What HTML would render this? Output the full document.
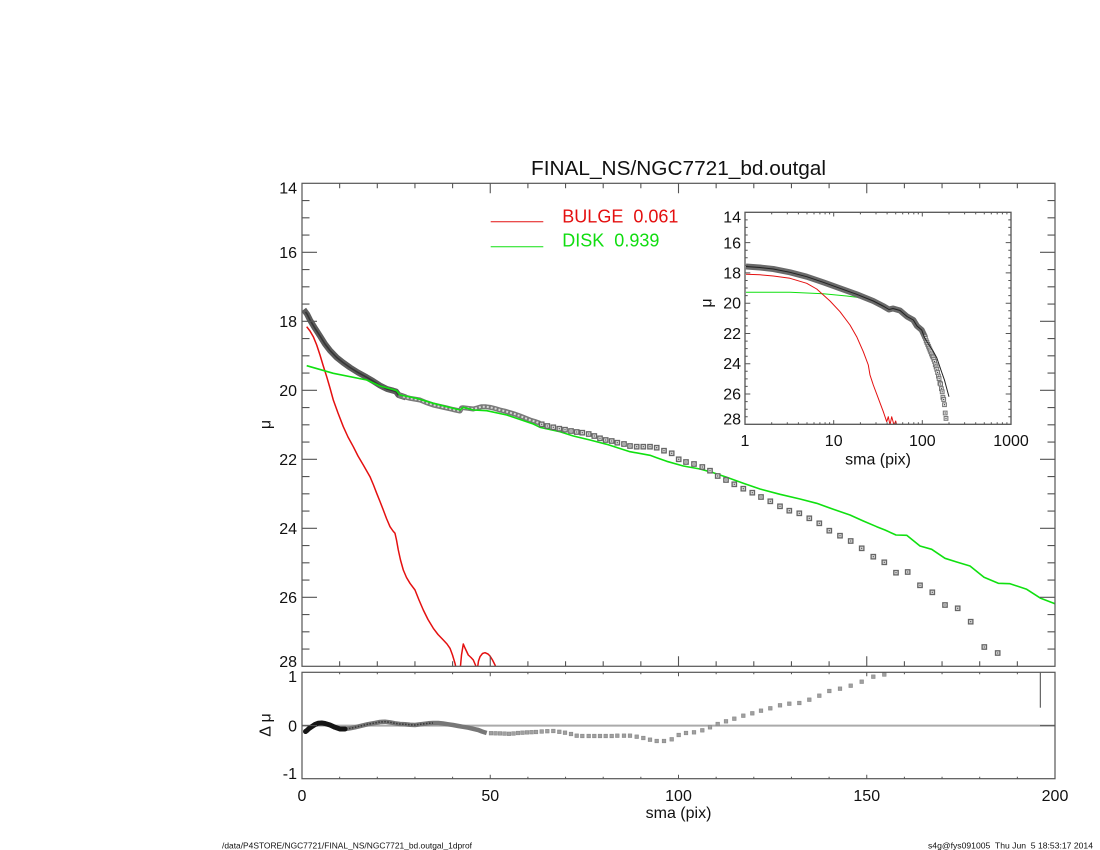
<!DOCTYPE html>
<html><head><meta charset="utf-8">
<style>
html,body{margin:0;padding:0;background:#fff;width:1100px;height:850px;overflow:hidden}
svg{display:block}
text{font-family:"Liberation Sans",sans-serif;fill:#111}
</style></head>
<body>
<svg width="1100" height="850" viewBox="0 0 1100 850" xmlns="http://www.w3.org/2000/svg">
<defs>
<clipPath id="cm"><rect x="302" y="183.3" width="753" height="483"/></clipPath>
<clipPath id="ci"><rect x="745" y="212.3" width="266" height="212"/></clipPath>
<clipPath id="cr"><rect x="302" y="672.3" width="753" height="106.4"/></clipPath>
<g id="q"><rect x="-2.2" y="-2.2" width="4.4" height="4.4" fill="#dedede" stroke="#666" stroke-width="1.3"/><rect x="-0.6" y="-0.6" width="1.2" height="1.2" fill="#555"/></g>
<g id="qi"><rect x="-1.9" y="-1.9" width="3.8" height="3.8" fill="#e2e2e2" stroke="#777" stroke-width="1"/><rect x="-0.5" y="-0.5" width="1" height="1" fill="#333"/></g>
<rect id="r" x="-1.8" y="-1.8" width="3.6" height="3.6" fill="#a0a0a0" stroke="#888" stroke-width="0.6"/>
</defs>

<!-- Title -->
<text x="678.5" y="175" font-size="20" text-anchor="middle" textLength="295" lengthAdjust="spacingAndGlyphs">FINAL_NS/NGC7721_bd.outgal</text>

<!-- ================= MAIN PANEL ================= -->
<g clip-path="url(#cm)" fill="none" stroke-linejoin="round">
<polyline stroke="#e41010" stroke-width="1.5" points="306.7,326.7 310,331 313.3,336.7 316.7,345 320,355 323.3,366 326.7,376.7 330,388 333.3,400 338,413 343.3,426.7 348,437 353.3,446.7 358,456 363.3,465 370,476.7 373.5,485 376.7,493.3 380,501.5 383.3,510 386.5,518.5 390,526.7 393,531 395,533.3 396.5,540 398.3,550 400.5,560 403.3,570 406.5,577.5 410,583.3 415,590 419,600 423.3,610 428,619.5 433.3,628.3 438,634.5 443.3,640 447,644 450,648.3 452.5,655 455,663.3 456,668"/>
<polyline stroke="#e41010" stroke-width="1.5" points="460.3,668 461.5,655 463.3,644 465,648 468.3,655 471,657.5 473.3,660 476.7,668"/>
<polyline stroke="#e41010" stroke-width="1.5" points="477.5,668 478.5,661 480,656.7 482.5,653.5 485,652.7 488,654 490,656 492.5,660 495,665 496,668"/>
<polyline stroke="#5c5c5c" stroke-width="6" stroke-linecap="square" points="305.5,312 307,314 310,320 315,328.3 320,336 325,344 330,350.5 336.7,357.5 343,362.5 350,367.5 358,372.5 366.7,377.3 373,381 380,385.5 387,389 393.3,390.7 396,391.5 398.5,395 403,396.5"/>
<polyline stroke="#363636" stroke-width="1.6" points="305.5,312 307,314 310,320 315,328.3 320,336 325,344 330,350.5 336.7,357.5 343,362.5 350,367.5 358,372.5 366.7,377.3 373,381 380,385.5 387,389 393.3,390.7 396,391.5 398.5,395 403,396.5"/>
<polyline stroke="#7a7a7a" stroke-width="5" points="398.5,395 403,396.5 410,398.3 420,400 426,402.5 433.3,405 440,406.5 446.7,408 453,409.5 460,411 461.5,408 463,407.7 468,408.3 473.3,409 477,408 481.7,406.7 486,406.8 490,407.3 495,408.5 500,410 505,411.2 510,412.7 515,414.2 520,416 525,418 530,420 535,421.5 540,423.3"/>
<polyline stroke="#d8d8d8" stroke-width="2" stroke-dasharray="2 2" points="403,396.5 410,398.3 420,400 426,402.5 433.3,405 440,406.5 446.7,408 453,409.5 460,411 461.5,408 463,407.7 468,408.3 473.3,409 477,408 481.7,406.7 486,406.8 490,407.3 495,408.5 500,410 505,411.2 510,412.7 515,414.2 520,416 525,418 530,420 535,421.5 540,423.3"/>
<polyline stroke="#10e010" stroke-width="1.6" points="306.7,365.7 333.3,373.3 366.7,380 380,386 393,389.5 396.7,390.7 400,395 416.7,398.3 433.3,403.3 460,410 463.3,407.3 473.3,410 486.7,410.7 506.7,415 533.3,424 540,427.3 560,431.7 573.3,436 590,440 606.7,444.3 630,451.7 650,455.3 656.7,457.7 666.7,461.3 683.3,466 700,469 713.3,472.7 726.7,477.3 743.3,483.3 760,489 780,494.3 800,499 816.7,503.3 833.3,509.3 850,515 863.3,521 876.7,526.7 885,530 896,535 906.7,535.3 920,546 931.7,549.3 945,558.3 956.7,562 970,566 984,577.3 998.3,583.3 1010,583.7 1026.7,589.3 1040.7,598.3 1055,603.7"/>
</g>
<g>
<use href="#q" x="541.7" y="424.3"/><use href="#q" x="547.3" y="426"/><use href="#q" x="553.3" y="427.3"/><use href="#q" x="559.3" y="428.7"/><use href="#q" x="565" y="429.7"/><use href="#q" x="571" y="431"/><use href="#q" x="576.7" y="432"/><use href="#q" x="582.3" y="432.7"/><use href="#q" x="588.7" y="434"/><use href="#q" x="594.3" y="436"/><use href="#q" x="600" y="438.3"/><use href="#q" x="605.7" y="440"/><use href="#q" x="611.7" y="441"/><use href="#q" x="617.3" y="442.7"/><use href="#q" x="624" y="444"/><use href="#q" x="630" y="446"/><use href="#q" x="636.7" y="446.7"/><use href="#q" x="643.3" y="446.7"/><use href="#q" x="650" y="446.7"/><use href="#q" x="656.7" y="447.7"/><use href="#q" x="664" y="450.7"/><use href="#q" x="671.7" y="453.3"/><use href="#q" x="678.7" y="459.3"/><use href="#q" x="686" y="462"/><use href="#q" x="694" y="464"/><use href="#q" x="702.3" y="467"/><use href="#q" x="710" y="470.7"/><use href="#q" x="717.7" y="476"/><use href="#q" x="726" y="480"/><use href="#q" x="734.3" y="484.3"/><use href="#q" x="743.3" y="488.7"/><use href="#q" x="752.3" y="492.7"/><use href="#q" x="761" y="497"/><use href="#q" x="770.3" y="501.3"/><use href="#q" x="780" y="506.3"/><use href="#q" x="789.3" y="510.7"/><use href="#q" x="799.3" y="513.3"/><use href="#q" x="809.3" y="518.3"/><use href="#q" x="819.3" y="523.3"/><use href="#q" x="829.3" y="530.7"/><use href="#q" x="840" y="535.7"/><use href="#q" x="850.7" y="541"/><use href="#q" x="861.7" y="548.3"/><use href="#q" x="873.3" y="556.7"/><use href="#q" x="884.3" y="562.3"/><use href="#q" x="896" y="572.7"/><use href="#q" x="907.7" y="572"/><use href="#q" x="920" y="585.3"/><use href="#q" x="932.3" y="592.3"/><use href="#q" x="945" y="605"/><use href="#q" x="957.7" y="608.3"/><use href="#q" x="970.7" y="621.7"/><use href="#q" x="984.3" y="647"/><use href="#q" x="997.7" y="653"/>
</g>

<rect x="302" y="183.3" width="753" height="483" fill="none" stroke="#555" stroke-width="1.2"/>
<path fill="none" stroke="#555" stroke-width="1.1" d="
M302 252.3h15M302 321.3h15M302 390.3h15M302 459.3h15M302 528.3h15M302 597.3h15
M302 200.55h7.5M302 217.8h7.5M302 235.05h7.5M302 269.55h7.5M302 286.8h7.5M302 304.05h7.5M302 338.55h7.5M302 355.8h7.5M302 373.05h7.5M302 407.55h7.5M302 424.8h7.5M302 442.05h7.5M302 476.55h7.5M302 493.8h7.5M302 511.05h7.5M302 545.55h7.5M302 562.8h7.5M302 580.05h7.5M302 614.55h7.5M302 631.8h7.5M302 649.05h7.5
M1055 252.3h-15M1055 321.3h-15M1055 390.3h-15M1055 459.3h-15M1055 528.3h-15M1055 597.3h-15
M1055 200.55h-7.5M1055 217.8h-7.5M1055 235.05h-7.5M1055 269.55h-7.5M1055 286.8h-7.5M1055 304.05h-7.5M1055 338.55h-7.5M1055 355.8h-7.5M1055 373.05h-7.5M1055 407.55h-7.5M1055 424.8h-7.5M1055 442.05h-7.5M1055 476.55h-7.5M1055 493.8h-7.5M1055 511.05h-7.5M1055 545.55h-7.5M1055 562.8h-7.5M1055 580.05h-7.5M1055 614.55h-7.5M1055 631.8h-7.5M1055 649.05h-7.5
M490.25 666.3v-10M678.5 666.3v-10M866.75 666.3v-10
M339.65 666.3v-5M377.3 666.3v-5M414.95 666.3v-5M452.6 666.3v-5M527.9 666.3v-5M565.55 666.3v-5M603.2 666.3v-5M640.85 666.3v-5M716.15 666.3v-5M753.8 666.3v-5M791.45 666.3v-5M829.1 666.3v-5M904.4 666.3v-5M942.05 666.3v-5M979.7 666.3v-5M1017.35 666.3v-5
M490.25 183.3v10M678.5 183.3v10M866.75 183.3v10
M339.65 183.3v5M377.3 183.3v5M414.95 183.3v5M452.6 183.3v5M527.9 183.3v5M565.55 183.3v5M603.2 183.3v5M640.85 183.3v5M716.15 183.3v5M753.8 183.3v5M791.45 183.3v5M829.1 183.3v5M904.4 183.3v5M942.05 183.3v5M979.7 183.3v5M1017.35 183.3v5"/>
<g font-size="16" text-anchor="end">
<text x="297" y="193.5">14</text>
<text x="297" y="258">16</text>
<text x="297" y="327">18</text>
<text x="297" y="396">20</text>
<text x="297" y="465">22</text>
<text x="297" y="534">24</text>
<text x="297" y="603">26</text>
<text x="297" y="667">28</text>
</g>
<text x="265" y="430" font-size="16" text-anchor="middle" transform="rotate(-90 265 424.5)">μ</text>

<line x1="490.7" y1="221.7" x2="543.3" y2="221.7" stroke="#e41010" stroke-width="1"/>
<line x1="490.7" y1="246.7" x2="543.3" y2="246.7" stroke="#10e010" stroke-width="1"/>
<text x="562.3" y="222.7" font-size="18" style="fill:#e41010" xml:space="preserve">BULGE  0.061</text>
<text x="562.3" y="246.7" font-size="18" style="fill:#10dd10" xml:space="preserve">DISK  0.939</text>

<!-- ================= INSET ================= -->
<g clip-path="url(#ci)" fill="none" stroke-linejoin="round">
<polyline stroke="#10e010" stroke-width="1" points="746,292.3 790,292.3 823.3,293.7 846.7,296 856.7,297.3 873,301"/>
<polyline stroke="#e41010" stroke-width="1" points="746,274.3 760,274.8 773.3,276 790,278.3 806.7,283.3 816.7,289 830,301 840,311.7 850,325 856.7,336.7 863.3,351.7 868.3,365 870,375 873.3,385 878.3,398.3 883.3,411.7 886.7,421.7 888.3,416.7 890,425 891.7,416.7 894,425 895.7,421 896.7,425"/>
<polyline stroke="#6a6a6a" stroke-width="6" points="746,266.5 760,267.5 773.3,269 790,272.3 806.7,276.7 823.3,282.3 840,288.3 856.7,294.3 873.3,301 883,306 889,309.5 893,308.5 900,310.5 907,316.5 913.3,320 917,326 921.7,330 925,337"/>
</g>
<g>
<use href="#qi" x="924.7" y="336.8"/><use href="#qi" x="925.4" y="338.4"/><use href="#qi" x="926.2" y="340.8"/><use href="#qi" x="926.9" y="342.5"/><use href="#qi" x="927.7" y="344.4"/><use href="#qi" x="928.5" y="346.3"/><use href="#qi" x="929.2" y="348.1"/><use href="#qi" x="930" y="350"/><use href="#qi" x="930.7" y="351.8"/><use href="#qi" x="931.5" y="354"/><use href="#qi" x="932.3" y="356"/><use href="#qi" x="933.1" y="357.1"/><use href="#qi" x="933.8" y="359.3"/><use href="#qi" x="934.6" y="361.5"/><use href="#qi" x="935.3" y="364.7"/><use href="#qi" x="936.1" y="366.9"/><use href="#qi" x="936.8" y="369.3"/><use href="#qi" x="937.6" y="372.5"/><use href="#qi" x="938.4" y="376.1"/><use href="#qi" x="939.1" y="378.6"/><use href="#qi" x="939.9" y="383.2"/><use href="#qi" x="940.6" y="384"/><use href="#qi" x="941.4" y="388.7"/><use href="#qi" x="942.2" y="391.8"/><use href="#qi" x="942.9" y="397.3"/><use href="#qi" x="943.7" y="399.5"/><use href="#qi" x="944.5" y="404.7"/><use href="#qi" x="945.2" y="413"/><use href="#qi" x="946" y="418.4"/>
</g>
<g clip-path="url(#ci)" fill="none">
<polyline stroke="#222" stroke-width="1" points="746,266.5 760,267.5 773.3,269 790,272.3 806.7,276.7 823.3,282.3 840,288.3 856.7,294.3 873.3,301 883,306 889,309.5 893,308.5 900,310.5 907,316.5 913.3,320 917,326 921.7,330 924.5,337.7 929.9,346.4 933.1,351 936.8,357.8 941.4,371.4 944.5,380.2 946.6,388 949,396.8"/>
</g>
<rect x="745" y="212.3" width="266" height="212" fill="none" stroke="#555" stroke-width="1.3"/>
<path fill="none" stroke="#555" stroke-width="1" d="
M745 242.6h5.3M745 272.9h5.3M745 303.2h5.3M745 333.5h5.3M745 363.7h5.3M745 394h5.3
M1011 242.6h-5.3M1011 272.9h-5.3M1011 303.2h-5.3M1011 333.5h-5.3M1011 363.7h-5.3M1011 394h-5.3
M745 219.9h2.7M745 227.4h2.7M745 235h2.7M745 250.2h2.7M745 257.7h2.7M745 265.3h2.7M745 280.5h2.7M745 288h2.7M745 295.6h2.7M745 310.8h2.7M745 318.3h2.7M745 325.9h2.7M745 341.1h2.7M745 348.6h2.7M745 356.2h2.7M745 371.3h2.7M745 378.9h2.7M745 386.4h2.7M745 401.6h2.7M745 409.2h2.7M745 416.7h2.7
M1011 219.9h-2.7M1011 227.4h-2.7M1011 235h-2.7M1011 250.2h-2.7M1011 257.7h-2.7M1011 265.3h-2.7M1011 280.5h-2.7M1011 288h-2.7M1011 295.6h-2.7M1011 310.8h-2.7M1011 318.3h-2.7M1011 325.9h-2.7M1011 341.1h-2.7M1011 348.6h-2.7M1011 356.2h-2.7M1011 371.3h-2.7M1011 378.9h-2.7M1011 386.4h-2.7M1011 401.6h-2.7M1011 409.2h-2.7M1011 416.7h-2.7
M833.7 424.3v-4.2M922.3 424.3v-4.2M833.7 212.3v4.2M922.3 212.3v4.2
M771.7 424.3v-2.1M787.3 424.3v-2.1M798.4 424.3v-2.1M807 424.3v-2.1M814 424.3v-2.1M819.9 424.3v-2.1M825.1 424.3v-2.1M829.6 424.3v-2.1M860.4 424.3v-2.1M876 424.3v-2.1M887.1 424.3v-2.1M895.7 424.3v-2.1M902.7 424.3v-2.1M908.6 424.3v-2.1M913.8 424.3v-2.1M918.3 424.3v-2.1M949 424.3v-2.1M964.6 424.3v-2.1M975.7 424.3v-2.1M984.3 424.3v-2.1M991.3 424.3v-2.1M997.2 424.3v-2.1M1002.4 424.3v-2.1M1006.9 424.3v-2.1
M771.7 212.3v2.1M787.3 212.3v2.1M798.4 212.3v2.1M807 212.3v2.1M814 212.3v2.1M819.9 212.3v2.1M825.1 212.3v2.1M829.6 212.3v2.1M860.4 212.3v2.1M876 212.3v2.1M887.1 212.3v2.1M895.7 212.3v2.1M902.7 212.3v2.1M908.6 212.3v2.1M913.8 212.3v2.1M918.3 212.3v2.1M949 212.3v2.1M964.6 212.3v2.1M975.7 212.3v2.1M984.3 212.3v2.1M991.3 212.3v2.1M997.2 212.3v2.1M1002.4 212.3v2.1M1006.9 212.3v2.1"/>
<g font-size="16" text-anchor="end">
<text x="741" y="222.7">14</text>
<text x="741" y="248.3">16</text>
<text x="741" y="278.5">18</text>
<text x="741" y="308.7">20</text>
<text x="741" y="339">22</text>
<text x="741" y="369.2">24</text>
<text x="741" y="399.5">26</text>
<text x="741" y="424.3">28</text>
</g>
<g font-size="16" text-anchor="middle">
<text x="745" y="446">1</text>
<text x="833.7" y="446">10</text>
<text x="922.3" y="446">100</text>
<text x="1011" y="446">1000</text>
<text x="878" y="464.5">sma (pix)</text>
</g>
<text x="706" y="308.5" font-size="16" text-anchor="middle" transform="rotate(-90 706 303)">μ</text>

<!-- ================= RESIDUAL PANEL ================= -->
<line x1="302" y1="725.6" x2="1055" y2="725.6" stroke="#aaa" stroke-width="2"/>
<g clip-path="url(#cr)" fill="none" stroke-linejoin="round">
<polyline stroke="#777" stroke-width="4.5" points="340,729 345,729 350,728.3 355,727.3 361.7,725.7 368,724.2 375,723 380,722 385,721.7 390,722.3 395,723.3 400,724 405,724.3 410,724.8 415,725 420,724.3 428.3,723.3 433,723 438.3,723 443,723.5 448.3,724.3 453,725 458.3,726 463,726.8 468.3,727.7 473,728.8 478.3,730 482,731.5 486.7,733"/>
<polyline stroke="#3a3a3a" stroke-width="1.6" stroke-dasharray="1.5 1.5" points="340,729 345,729 350,728.3 355,727.3 361.7,725.7 368,724.2 375,723 380,722 385,721.7 390,722.3 395,723.3 400,724 405,724.3 410,724.8 415,725 420,724.3 428.3,723.3 433,723"/>
<polyline stroke="#151515" stroke-width="5" stroke-linecap="round" points="305.5,731.5 306.7,730.7 309,728.5 311.7,726.7 315,724.5 318,723.3 321.7,723 325,723.5 330,725 335,727.3 340,729 345,729"/>
</g>
<g>
<use href="#r" x="491" y="733.2"/><use href="#r" x="495.5" y="733.3"/><use href="#r" x="500" y="733.4"/><use href="#r" x="504.5" y="733.6"/><use href="#r" x="509" y="733.8"/><use href="#r" x="513.5" y="733.5"/><use href="#r" x="518" y="733"/><use href="#r" x="522.5" y="732.7"/><use href="#r" x="527" y="732.4"/><use href="#r" x="531.5" y="732.2"/><use href="#r" x="536" y="732"/><use href="#r" x="541.7" y="731.5"/><use href="#r" x="547.3" y="731.2"/><use href="#r" x="553.3" y="731"/><use href="#r" x="559.3" y="731.8"/><use href="#r" x="565" y="732.7"/><use href="#r" x="571" y="734"/><use href="#r" x="576.7" y="735.7"/><use href="#r" x="582.3" y="736"/><use href="#r" x="588.7" y="736"/><use href="#r" x="594.3" y="736"/><use href="#r" x="600" y="736"/><use href="#r" x="605.7" y="736"/><use href="#r" x="611.7" y="736"/><use href="#r" x="617.3" y="735.7"/><use href="#r" x="624" y="735.7"/><use href="#r" x="630" y="735.7"/><use href="#r" x="636.7" y="736.7"/><use href="#r" x="643.3" y="738"/><use href="#r" x="650" y="739.7"/><use href="#r" x="656.7" y="741"/><use href="#r" x="664" y="741"/><use href="#r" x="671.7" y="739.3"/><use href="#r" x="678.7" y="735"/><use href="#r" x="686" y="733"/><use href="#r" x="694" y="732.3"/><use href="#r" x="702.3" y="730.3"/><use href="#r" x="710" y="727.3"/><use href="#r" x="717.7" y="724"/><use href="#r" x="726" y="721.3"/><use href="#r" x="734.3" y="718.7"/><use href="#r" x="743.3" y="715.7"/><use href="#r" x="752.3" y="713.3"/><use href="#r" x="761" y="710.7"/><use href="#r" x="770.3" y="708.3"/><use href="#r" x="780" y="705.3"/><use href="#r" x="789.3" y="703.7"/><use href="#r" x="799.3" y="703"/><use href="#r" x="809.3" y="699.7"/><use href="#r" x="819.3" y="695.7"/><use href="#r" x="829.3" y="691"/><use href="#r" x="840" y="688.7"/><use href="#r" x="850.7" y="685.7"/><use href="#r" x="861.7" y="681.7"/><use href="#r" x="873.3" y="676.7"/><use href="#r" x="884.3" y="674.5"/>
</g>
<line x1="1040.3" y1="672.7" x2="1040.3" y2="707.7" stroke="#444" stroke-width="1"/>
<rect x="302" y="672.3" width="753" height="106.4" fill="none" stroke="#555" stroke-width="1.2"/>
<path fill="none" stroke="#555" stroke-width="1" d="
M302 725.6h15M1055 725.6h-15
M490.25 778.7v-4M678.5 778.7v-4M866.75 778.7v-4
M339.65 778.7v-2M377.3 778.7v-2M414.95 778.7v-2M452.6 778.7v-2M527.9 778.7v-2M565.55 778.7v-2M603.2 778.7v-2M640.85 778.7v-2M716.15 778.7v-2M753.8 778.7v-2M791.45 778.7v-2M829.1 778.7v-2M904.4 778.7v-2M942.05 778.7v-2M979.7 778.7v-2M1017.35 778.7v-2
M490.25 672.3v4M678.5 672.3v4M866.75 672.3v4
M339.65 672.3v2M377.3 672.3v2M414.95 672.3v2M452.6 672.3v2M527.9 672.3v2M565.55 672.3v2M603.2 672.3v2M640.85 672.3v2M716.15 672.3v2M753.8 672.3v2M791.45 672.3v2M829.1 672.3v2M904.4 672.3v2M942.05 672.3v2M979.7 672.3v2M1017.35 672.3v2"/>
<g font-size="16" text-anchor="end">
<text x="297" y="682">1</text>
<text x="297" y="731.3">0</text>
<text x="297" y="779">-1</text>
</g>
<text x="265" y="730.5" font-size="16" text-anchor="middle" transform="rotate(-90 265 725)">Δ μ</text>
<g font-size="16" text-anchor="middle">
<text x="302" y="801">0</text>
<text x="490.25" y="801">50</text>
<text x="678.5" y="801">100</text>
<text x="866.75" y="801">150</text>
<text x="1055" y="801">200</text>
<text x="678.5" y="818">sma (pix)</text>
</g>

<text x="222" y="848.5" font-size="8.5" textLength="250" lengthAdjust="spacingAndGlyphs">/data/P4STORE/NGC7721/FINAL_NS/NGC7721_bd.outgal_1dprof</text>
<text x="928" y="848.5" font-size="8.5" textLength="165" lengthAdjust="spacingAndGlyphs" xml:space="preserve">s4g@fys091005  Thu Jun  5 18:53:17 2014</text>
</svg>
</body></html>
